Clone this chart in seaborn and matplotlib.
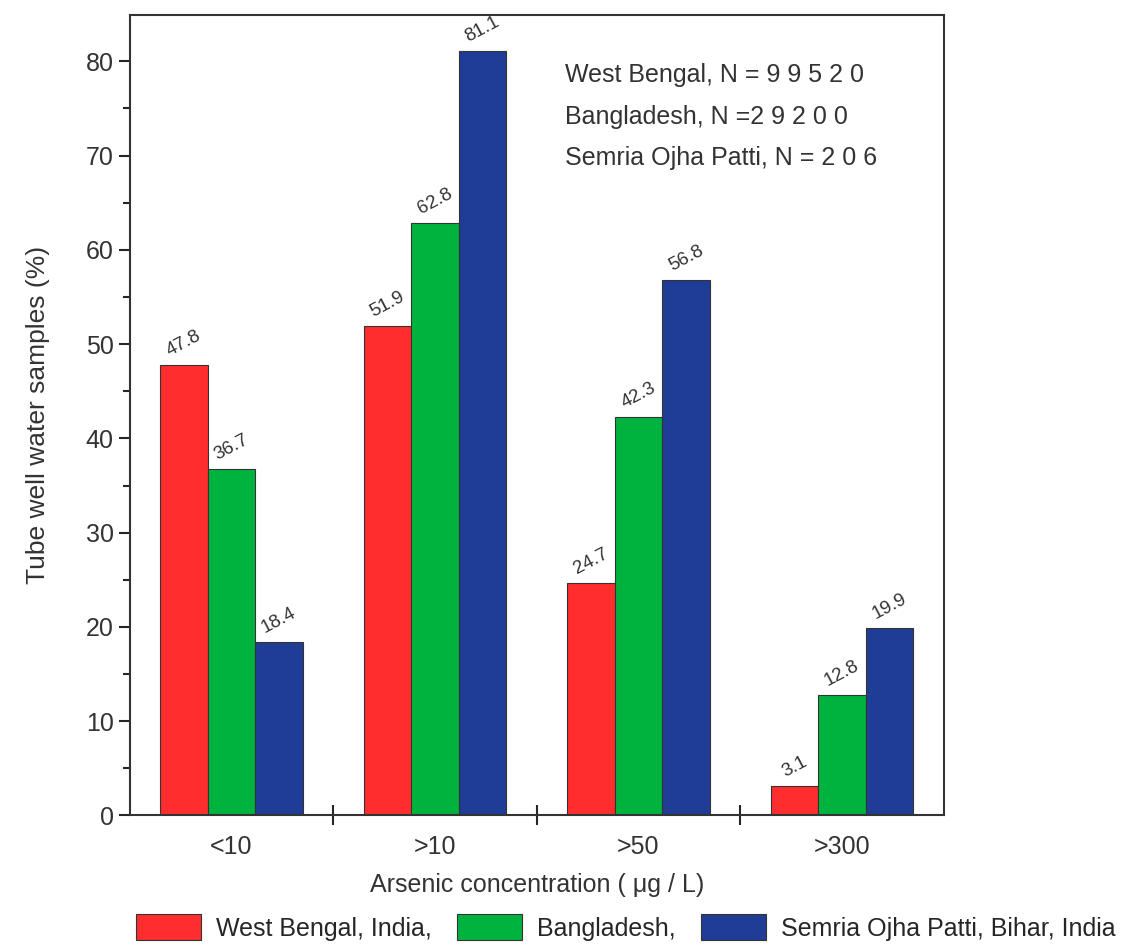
import matplotlib
matplotlib.use("Agg")
import matplotlib.pyplot as plt
from matplotlib.ticker import MultipleLocator, FixedLocator, NullFormatter
import seaborn as sns
import pandas as pd

categories = ["<10", ">10", ">50", ">300"]
regions = ["West Bengal, India,", "Bangladesh,", "Semria Ojha Patti, Bihar, India"]
west_bengal = [47.8, 51.9, 24.7, 3.1]
bangladesh = [36.7, 62.8, 42.3, 12.8]
semria = [18.4, 81.1, 56.8, 19.9]
sample_notes = ["West Bengal, N = 9 9 5 2 0",
                "Bangladesh, N =2 9 2 0 0",
                "Semria Ojha Patti, N = 2 0 6"]

df = pd.DataFrame({
    "conc": categories * 3,
    "region": [regions[0]] * 4 + [regions[1]] * 4 + [regions[2]] * 4,
    "pct": west_bengal + bangladesh + semria,
})

sns.set_theme(style="ticks")
plt.rcParams["font.family"] = ["Liberation Sans", "DejaVu Sans"]

fig, ax = plt.subplots(figsize=(11.48, 9.46), dpi=100)
fig.subplots_adjust(left=0.113, right=0.822, top=0.984, bottom=0.138)

palette = ["#FF2D2D", "#00B33F", "#1F3C96"]
sns.barplot(data=df, x="conc", y="pct", hue="region", palette=palette,
            width=0.7, edgecolor="#333333", linewidth=0.8, saturation=1,
            ax=ax)

for cont in ax.containers:
    ax.bar_label(cont, fmt="%.1f", rotation=28, padding=4,
                 fontsize=13.5, color="#333333")

ax.set_ylim(0, 84.9)
ax.set_xlim(-0.5, 3.5)
ax.yaxis.set_major_locator(MultipleLocator(10))
ax.yaxis.set_minor_locator(MultipleLocator(5))
ax.tick_params(axis="y", which="major", direction="out", length=8, width=1.5,
               labelsize=18, labelcolor="#333333")
ax.tick_params(axis="y", which="minor", direction="out", length=5, width=1.5)
ax.xaxis.set_minor_locator(FixedLocator([0.5, 1.5, 2.5]))
ax.xaxis.set_minor_formatter(NullFormatter())
ax.tick_params(axis="x", which="major", length=0, labelsize=18, pad=14,
               labelcolor="#333333")
ax.tick_params(axis="x", which="minor", direction="inout", length=14, width=1.5)

for s in ax.spines.values():
    s.set_linewidth(1.5)
    s.set_color("#333333")

ax.set_xlabel("Arsenic concentration ( \u03bcg / L)", fontsize=18,
              color="#333333", labelpad=10)
ax.set_ylabel("Tube well water samples (%)", fontsize=19, color="#333333",
              labelpad=26)

for i, note in enumerate(sample_notes):
    ax.text(0.535, 0.925 - i * 0.052, note, transform=ax.transAxes,
            fontsize=18, color="#333333", va="center")

handles, labels = ax.get_legend_handles_labels()
ax.get_legend().remove()
fig.legend(handles, labels, loc="lower center", bbox_to_anchor=(0.545, -0.018),
           ncol=3, frameon=False, fontsize=18, handlelength=2.6,
           handleheight=1.2, columnspacing=1.0, handletextpad=0.6)

fig.savefig("out.png", dpi=100)
